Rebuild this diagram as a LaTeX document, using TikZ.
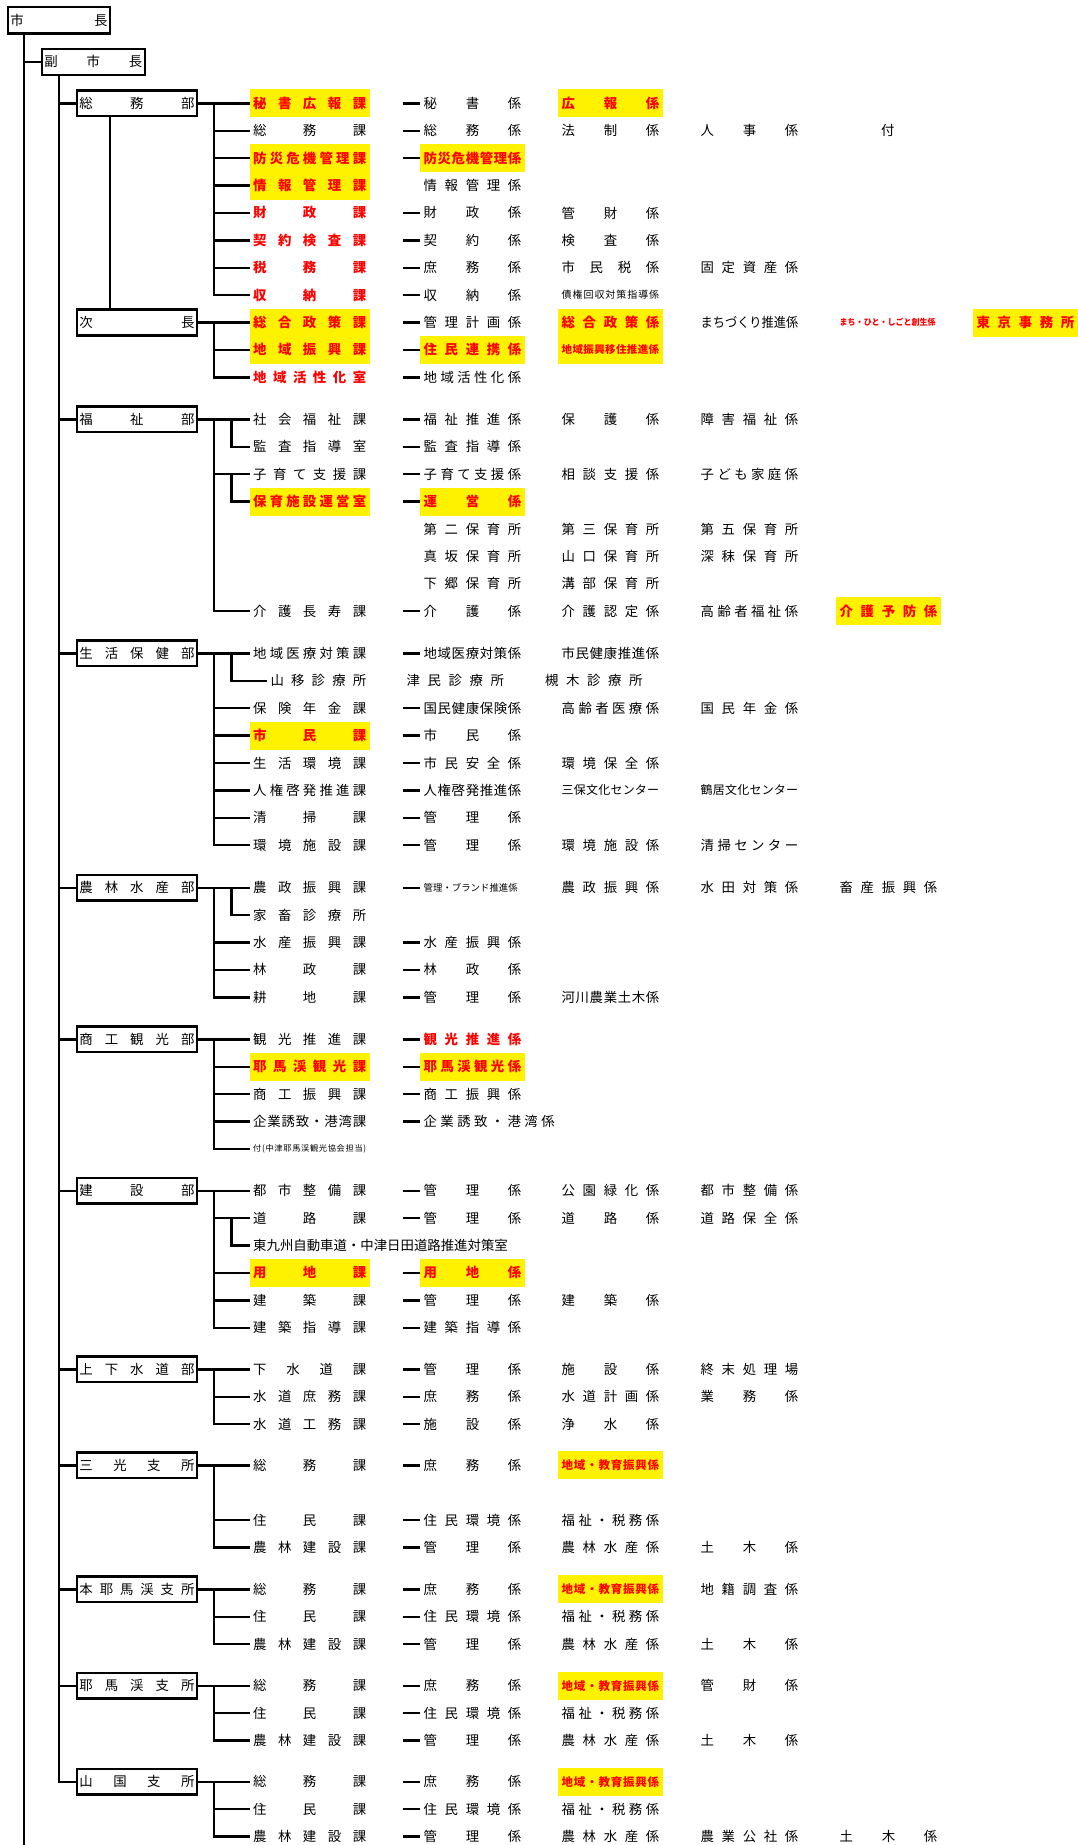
\documentclass[tikz,border=0pt]{standalone}
\usepackage{fontspec}
\setmainfont{Noto Sans CJK JP}
\usepackage{graphicx}
\usepackage{tikz}

% spread the characters of a label over a fixed width (or squeeze it in)
\makeatletter
\newsavebox\fitb@x
\def\spr@first#1{#1\spr@rest}
\def\spr@rest#1{\ifx#1\relax\else\hfill#1\expandafter\spr@rest\fi}
\newcommand\cellfit[2]{\sbox\fitb@x{#2}\ifdim\wd\fitb@x>#1\relax\resizebox{#1}{\height}{#2}\else\hbox to #1{\spr@first#2\relax}\fi}
\makeatother
\newcommand\ka[1]{\cellfit{113pt}{#1}}
\newcommand\kk[1]{\cellfit{97.5pt}{#1}}
\newcommand\dn[1]{\cellfit{115pt}{#1}}

\begin{document}
\begin{tikzpicture}[x=1pt,y=-1pt,
    font=\fontsize{13.4}{16}\selectfont,
    conn/.style={line width=2.4pt},
    cellbox/.style={anchor=west,inner xsep=3.5pt,inner ysep=0pt,minimum height=28pt},
    hlbox/.style={cellbox,fill=yellow,text=red,font=\fontsize{13.4}{16}\selectfont\bfseries},
    rdbox/.style={cellbox,text=red,font=\fontsize{13.4}{16}\selectfont\bfseries},
    topbox/.style={draw,line width=2.4pt,inner xsep=2.3pt,inner ysep=0pt},
    deptbox/.style={draw,line width=2.4pt,inner xsep=2.5pt,inner ysep=0pt,minimum width=120pt,minimum height=25.8pt}]
  \fill[white] (0,0) rectangle (1077,1845);
  \useasboundingbox (0,0) rectangle (1077,1845);

  % mayor and deputy
  \node[topbox,minimum width=101.6pt,minimum height=26.6pt] (shicho) at (58.9,20.2) {\cellfit{97pt}{市長}};
  \node[topbox,minimum width=103pt,minimum height=26pt] (fuku) at (93.3,61.85) {\cellfit{98pt}{副市長}};
  \coordinate (mtop) at (24.1,33.5);
  \coordinate (mend) at (24.1,1845);
  \draw[conn] (mtop) -- (mend);
  \draw[conn] (mtop) |- (fuku.west);

  % departments
  \node[deptbox] (somu) at (136.95,103.3) {\dn{総務部}};
  \node[deptbox] (jicho) at (136.95,322.5) {\dn{次長}};
  \node[deptbox] (fukushi) at (136.95,419.3) {\dn{福祉部}};
  \node[deptbox] (seikatsu) at (136.95,653.3) {\dn{生活保健部}};
  \node[deptbox] (norin) at (136.95,887.7) {\dn{農林水産部}};
  \node[deptbox] (shoko) at (136.95,1039.3) {\dn{商工観光部}};
  \node[deptbox] (kensetsu) at (136.95,1190.7) {\dn{建設部}};
  \node[deptbox] (josui) at (136.95,1369.3) {\dn{上下水道部}};
  \node[deptbox] (sanko) at (136.95,1465.3) {\dn{三光支所}};
  \node[deptbox] (honya) at (136.95,1589.3) {\dn{本耶馬渓支所}};
  \node[deptbox] (yaba) at (136.95,1685.7) {\dn{耶馬渓支所}};
  \node[deptbox] (yamak) at (136.95,1781.7) {\dn{山国支所}};
  \coordinate (ftop) at (59.2,74.85);
  \foreach \d in {somu,fukushi,seikatsu,norin,shoko,kensetsu,josui,sanko,honya,yaba,yamak}
    \draw[conn] (ftop) |- (\d.west);
  \coordinate (sj) at (110.2,0);
  \draw[conn] (somu.south -| sj) -- (jicho.north -| sj);

  % 総務部
  \node[hlbox] (sm-a0) at (249.5,103.3) {\ka{秘書広報課}};
  \node[cellbox] (sm-b0) at (420,103.3) {\kk{秘書係}};
  \node[hlbox] (sm-c0) at (558,103.3) {\kk{広報係}};
  \node[cellbox] (sm-a1) at (249.5,130.7) {\ka{総務課}};
  \node[cellbox] (sm-b1) at (420,130.7) {\kk{総務係}};
  \node[cellbox] (sm-c1) at (558,130.7) {\kk{法制係}};
  \node[cellbox] (sm-d1) at (697,130.7) {\kk{人事係}};
  \node[cellbox,anchor=center] (sm-e1) at (887.8,130.7) {付};
  \node[hlbox] (sm-a2) at (249.5,158.1) {\ka{防災危機管理課}};
  \node[hlbox] (sm-b2) at (420,158.1) {\kk{防災危機管理係}};
  \node[hlbox] (sm-a3) at (249.5,185.5) {\ka{情報管理課}};
  \node[cellbox] (sm-b3) at (420,185.5) {\kk{情報管理係}};
  \node[rdbox] (sm-a4) at (249.5,212.9) {\ka{財政課}};
  \node[cellbox] (sm-b4) at (420,212.9) {\kk{財政係}};
  \node[cellbox] (sm-c4) at (558,212.9) {\kk{管財係}};
  \node[rdbox] (sm-a5) at (249.5,240.3) {\ka{契約検査課}};
  \node[cellbox] (sm-b5) at (420,240.3) {\kk{契約係}};
  \node[cellbox] (sm-c5) at (558,240.3) {\kk{検査係}};
  \node[rdbox] (sm-a6) at (249.5,267.7) {\ka{税務課}};
  \node[cellbox] (sm-b6) at (420,267.7) {\kk{庶務係}};
  \node[cellbox] (sm-c6) at (558,267.7) {\kk{市民税係}};
  \node[cellbox] (sm-d6) at (697,267.7) {\kk{固定資産係}};
  \node[rdbox] (sm-a7) at (249.5,295.1) {\ka{収納課}};
  \node[cellbox] (sm-b7) at (420,295.1) {\kk{収納係}};
  \node[cellbox,font=\fontsize{10}{12}\selectfont] (sm-c7) at (558,295.1) {\kk{債権回収対策指導係}};
  \draw[conn] (somu.east) -- (sm-a0.west);
  \coordinate (sm-bus) at (214.2,103.3);
  \foreach \k in {1,...,7} \draw[conn] (sm-bus) |- (sm-a\k.west);
  \foreach \k in {0,1,2,4,5,6,7} \draw[conn] ([xshift=-17pt]sm-b\k.west) -- (sm-b\k.west);

  % 次長
  \node[hlbox] (jc-a0) at (249.5,322.5) {\ka{総合政策課}};
  \node[cellbox] (jc-b0) at (420,322.5) {\kk{管理計画係}};
  \node[hlbox] (jc-c0) at (558,322.5) {\kk{総合政策係}};
  \node[cellbox] (jc-d0) at (697,322.5) {\kk{まちづくり推進係}};
  \node[rdbox,font=\fontsize{8.5}{10}\selectfont\bfseries] (jc-e0) at (836,322.5) {\cellfit{96pt}{まち・ひと・しごと創生係}};
  \node[hlbox] (jc-f0) at (973,322.5) {\kk{東京事務所}};
  \node[hlbox] (jc-a1) at (249.5,349.9) {\ka{地域振興課}};
  \node[hlbox] (jc-b1) at (420,349.9) {\kk{住民連携係}};
  \node[hlbox,font=\fontsize{10.5}{12}\selectfont\bfseries] (jc-c1) at (558,349.9) {\kk{地域振興移住推進係}};
  \node[rdbox] (jc-a2) at (249.5,377.3) {\ka{地域活性化室}};
  \node[cellbox] (jc-b2) at (420,377.3) {\kk{地域活性化係}};
  \draw[conn] (jicho.east) -- (jc-a0.west);
  \coordinate (jc-bus) at (214.2,322.5);
  \foreach \k in {1,2} \draw[conn] (jc-bus) |- (jc-a\k.west);
  \foreach \k in {0,1,2} \draw[conn] ([xshift=-17pt]jc-b\k.west) -- (jc-b\k.west);

  % 福祉部
  \node[cellbox] (fk-a0) at (249.5,419.3) {\ka{社会福祉課}};
  \node[cellbox] (fk-b0) at (420,419.3) {\kk{福祉推進係}};
  \node[cellbox] (fk-c0) at (558,419.3) {\kk{保護係}};
  \node[cellbox] (fk-d0) at (697,419.3) {\kk{障害福祉係}};
  \node[cellbox] (fk-a1) at (249.5,446.7) {\ka{監査指導室}};
  \node[cellbox] (fk-b1) at (420,446.7) {\kk{監査指導係}};
  \node[cellbox] (fk-a2) at (249.5,474.1) {\ka{子育て支援課}};
  \node[cellbox] (fk-b2) at (420,474.1) {\kk{子育て支援係}};
  \node[cellbox] (fk-c2) at (558,474.1) {\kk{相談支援係}};
  \node[cellbox] (fk-d2) at (697,474.1) {\kk{子ども家庭係}};
  \node[hlbox] (fk-a3) at (249.5,501.5) {\ka{保育施設運営室}};
  \node[hlbox] (fk-b3) at (420,501.5) {\kk{運営係}};
  \node[cellbox] (fk-b4) at (420,528.9) {\kk{第二保育所}};
  \node[cellbox] (fk-c4) at (558,528.9) {\kk{第三保育所}};
  \node[cellbox] (fk-d4) at (697,528.9) {\kk{第五保育所}};
  \node[cellbox] (fk-b5) at (420,556.3) {\kk{真坂保育所}};
  \node[cellbox] (fk-c5) at (558,556.3) {\kk{山口保育所}};
  \node[cellbox] (fk-d5) at (697,556.3) {\kk{深秣保育所}};
  \node[cellbox] (fk-b6) at (420,583.7) {\kk{下郷保育所}};
  \node[cellbox] (fk-c6) at (558,583.7) {\kk{溝部保育所}};
  \node[cellbox] (fk-a7) at (249.5,611.1) {\ka{介護長寿課}};
  \node[cellbox] (fk-b7) at (420,611.1) {\kk{介護係}};
  \node[cellbox] (fk-c7) at (558,611.1) {\kk{介護認定係}};
  \node[cellbox] (fk-d7) at (697,611.1) {\kk{高齢者福祉係}};
  \node[hlbox] (fk-e7) at (836,611.1) {\kk{介護予防係}};
  \draw[conn] (fukushi.east) -- (fk-a0.west);
  \coordinate (fk-bus) at (214.2,419.3);
  \foreach \k in {2,7} \draw[conn] (fk-bus) |- (fk-a\k.west);
  \coordinate (fk-s0) at (231.4,419.3);
  \coordinate (fk-s2) at (231.4,474.1);
  \draw[conn] (fk-s0) |- (fk-a1.west);
  \draw[conn] (fk-s2) |- (fk-a3.west);
  \foreach \k in {0,1,2,3,7} \draw[conn] ([xshift=-17pt]fk-b\k.west) -- (fk-b\k.west);

  % 生活保健部
  \node[cellbox] (sk-a0) at (249.5,653.3) {\ka{地域医療対策課}};
  \node[cellbox] (sk-b0) at (420,653.3) {\kk{地域医療対策係}};
  \node[cellbox] (sk-c0) at (558,653.3) {\kk{市民健康推進係}};
  \node[cellbox] (sk-a1) at (266.9,680.7) {\cellfit{95.7pt}{山移診療所}};
  \node[cellbox] (sk-b1) at (402.8,680.7) {\kk{津民診療所}};
  \node[cellbox] (sk-c1) at (541.4,680.7) {\kk{槻木診療所}};
  \node[cellbox] (sk-a2) at (249.5,708.1) {\ka{保険年金課}};
  \node[cellbox] (sk-b2) at (420,708.1) {\kk{国民健康保険係}};
  \node[cellbox] (sk-c2) at (558,708.1) {\kk{高齢者医療係}};
  \node[cellbox] (sk-d2) at (697,708.1) {\kk{国民年金係}};
  \node[hlbox] (sk-a3) at (249.5,735.5) {\ka{市民課}};
  \node[cellbox] (sk-b3) at (420,735.5) {\kk{市民係}};
  \node[cellbox] (sk-a4) at (249.5,762.9) {\ka{生活環境課}};
  \node[cellbox] (sk-b4) at (420,762.9) {\kk{市民安全係}};
  \node[cellbox] (sk-c4) at (558,762.9) {\kk{環境保全係}};
  \node[cellbox] (sk-a5) at (249.5,790.3) {\ka{人権啓発推進課}};
  \node[cellbox] (sk-b5) at (420,790.3) {\kk{人権啓発推進係}};
  \node[cellbox,font=\fontsize{12}{14}\selectfont] (sk-c5) at (558,790.3) {\kk{三保文化センター}};
  \node[cellbox,font=\fontsize{12}{14}\selectfont] (sk-d5) at (697,790.3) {\kk{鶴居文化センター}};
  \node[cellbox] (sk-a6) at (249.5,817.7) {\ka{清掃課}};
  \node[cellbox] (sk-b6) at (420,817.7) {\kk{管理係}};
  \node[cellbox] (sk-a7) at (249.5,845.1) {\ka{環境施設課}};
  \node[cellbox] (sk-b7) at (420,845.1) {\kk{管理係}};
  \node[cellbox] (sk-c7) at (558,845.1) {\kk{環境施設係}};
  \node[cellbox] (sk-d7) at (697,845.1) {\kk{清掃センター}};
  \draw[conn] (seikatsu.east) -- (sk-a0.west);
  \coordinate (sk-bus) at (214.2,653.3);
  \foreach \k in {2,...,7} \draw[conn] (sk-bus) |- (sk-a\k.west);
  \coordinate (sk-s0) at (231.4,653.3);
  \draw[conn] (sk-s0) |- (sk-a1.west);
  \foreach \k in {0,2,3,4,5,6,7} \draw[conn] ([xshift=-17pt]sk-b\k.west) -- (sk-b\k.west);

  % 農林水産部
  \node[cellbox] (nr-a0) at (249.5,887.7) {\ka{農政振興課}};
  \node[cellbox,font=\fontsize{9.5}{11}\selectfont] (nr-b0) at (420,887.7) {\cellfit{94pt}{管理・ブランド推進係}};
  \node[cellbox] (nr-c0) at (558,887.7) {\kk{農政振興係}};
  \node[cellbox] (nr-d0) at (697,887.7) {\kk{水田対策係}};
  \node[cellbox] (nr-e0) at (836,887.7) {\kk{畜産振興係}};
  \node[cellbox] (nr-a1) at (249.5,915.1) {\ka{家畜診療所}};
  \node[cellbox] (nr-a2) at (249.5,942.5) {\ka{水産振興課}};
  \node[cellbox] (nr-b2) at (420,942.5) {\kk{水産振興係}};
  \node[cellbox] (nr-a3) at (249.5,969.9) {\ka{林政課}};
  \node[cellbox] (nr-b3) at (420,969.9) {\kk{林政係}};
  \node[cellbox] (nr-a4) at (249.5,997.3) {\ka{耕地課}};
  \node[cellbox] (nr-b4) at (420,997.3) {\kk{管理係}};
  \node[cellbox] (nr-c4) at (558,997.3) {\kk{河川農業土木係}};
  \draw[conn] (norin.east) -- (nr-a0.west);
  \coordinate (nr-bus) at (214.2,887.7);
  \foreach \k in {2,3,4} \draw[conn] (nr-bus) |- (nr-a\k.west);
  \coordinate (nr-s0) at (231.4,887.7);
  \draw[conn] (nr-s0) |- (nr-a1.west);
  \foreach \k in {0,2,3,4} \draw[conn] ([xshift=-17pt]nr-b\k.west) -- (nr-b\k.west);

  % 商工観光部
  \node[cellbox] (sh-a0) at (249.5,1039.3) {\ka{観光推進課}};
  \node[rdbox] (sh-b0) at (420,1039.3) {\kk{観光推進係}};
  \node[hlbox] (sh-a1) at (249.5,1066.7) {\ka{耶馬渓観光課}};
  \node[hlbox] (sh-b1) at (420,1066.7) {\kk{耶馬渓観光係}};
  \node[cellbox] (sh-a2) at (249.5,1094.1) {\ka{商工振興課}};
  \node[cellbox] (sh-b2) at (420,1094.1) {\kk{商工振興係}};
  \node[cellbox] (sh-a3) at (249.5,1121.5) {\ka{企業誘致・港湾課}};
  \node[cellbox] (sh-b3) at (420,1121.5) {\cellfit{131pt}{企業誘致・港湾係}};
  \node[cellbox,font=\fontsize{8.2}{10}\selectfont] (sh-a4) at (249.5,1148.9) {\ka{付(中津耶馬渓観光協会担当)}};
  \draw[conn] (shoko.east) -- (sh-a0.west);
  \coordinate (sh-bus) at (214.2,1039.3);
  \foreach \k in {1,...,4} \draw[conn] (sh-bus) |- (sh-a\k.west);
  \foreach \k in {0,...,3} \draw[conn] ([xshift=-17pt]sh-b\k.west) -- (sh-b\k.west);

  % 建設部
  \node[cellbox] (ks-a0) at (249.5,1190.7) {\ka{都市整備課}};
  \node[cellbox] (ks-b0) at (420,1190.7) {\kk{管理係}};
  \node[cellbox] (ks-c0) at (558,1190.7) {\kk{公園緑化係}};
  \node[cellbox] (ks-d0) at (697,1190.7) {\kk{都市整備係}};
  \node[cellbox] (ks-a1) at (249.5,1218.1) {\ka{道路課}};
  \node[cellbox] (ks-b1) at (420,1218.1) {\kk{管理係}};
  \node[cellbox] (ks-c1) at (558,1218.1) {\kk{道路係}};
  \node[cellbox] (ks-d1) at (697,1218.1) {\kk{道路保全係}};
  \node[cellbox] (ks-a2) at (249.5,1245.5) {東九州自動車道・中津日田道路推進対策室};
  \node[hlbox] (ks-a3) at (249.5,1272.9) {\ka{用地課}};
  \node[hlbox] (ks-b3) at (420,1272.9) {\kk{用地係}};
  \node[cellbox] (ks-a4) at (249.5,1300.3) {\ka{建築課}};
  \node[cellbox] (ks-b4) at (420,1300.3) {\kk{管理係}};
  \node[cellbox] (ks-c4) at (558,1300.3) {\kk{建築係}};
  \node[cellbox] (ks-a5) at (249.5,1327.7) {\ka{建築指導課}};
  \node[cellbox] (ks-b5) at (420,1327.7) {\kk{建築指導係}};
  \draw[conn] (kensetsu.east) -- (ks-a0.west);
  \coordinate (ks-bus) at (214.2,1190.7);
  \foreach \k in {1,3,4,5} \draw[conn] (ks-bus) |- (ks-a\k.west);
  \coordinate (ks-s1) at (231.4,1218.1);
  \draw[conn] (ks-s1) |- (ks-a2.west);
  \foreach \k in {0,1,3,4,5} \draw[conn] ([xshift=-17pt]ks-b\k.west) -- (ks-b\k.west);

  % 上下水道部
  \node[cellbox] (js-a0) at (249.5,1369.3) {\ka{下水道課}};
  \node[cellbox] (js-b0) at (420,1369.3) {\kk{管理係}};
  \node[cellbox] (js-c0) at (558,1369.3) {\kk{施設係}};
  \node[cellbox] (js-d0) at (697,1369.3) {\kk{終末処理場}};
  \node[cellbox] (js-a1) at (249.5,1396.7) {\ka{水道庶務課}};
  \node[cellbox] (js-b1) at (420,1396.7) {\kk{庶務係}};
  \node[cellbox] (js-c1) at (558,1396.7) {\kk{水道計画係}};
  \node[cellbox] (js-d1) at (697,1396.7) {\kk{業務係}};
  \node[cellbox] (js-a2) at (249.5,1424.1) {\ka{水道工務課}};
  \node[cellbox] (js-b2) at (420,1424.1) {\kk{施設係}};
  \node[cellbox] (js-c2) at (558,1424.1) {\kk{浄水係}};
  \draw[conn] (josui.east) -- (js-a0.west);
  \coordinate (js-bus) at (214.2,1369.3);
  \foreach \k in {1,2} \draw[conn] (js-bus) |- (js-a\k.west);
  \foreach \k in {0,1,2} \draw[conn] ([xshift=-17pt]js-b\k.west) -- (js-b\k.west);

  % 三光支所
  \node[cellbox] (sa-a0) at (249.5,1465.3) {\ka{総務課}};
  \node[cellbox] (sa-b0) at (420,1465.3) {\kk{庶務係}};
  \node[hlbox,font=\fontsize{11.5}{13}\selectfont\bfseries] (sa-c0) at (558,1465.3) {\kk{地域・教育振興係}};
  \node[cellbox] (sa-a2) at (249.5,1520.1) {\ka{住民課}};
  \node[cellbox] (sa-b2) at (420,1520.1) {\kk{住民環境係}};
  \node[cellbox] (sa-c2) at (558,1520.1) {\kk{福祉・税務係}};
  \node[cellbox] (sa-a3) at (249.5,1547.5) {\ka{農林建設課}};
  \node[cellbox] (sa-b3) at (420,1547.5) {\kk{管理係}};
  \node[cellbox] (sa-c3) at (558,1547.5) {\kk{農林水産係}};
  \node[cellbox] (sa-d3) at (697,1547.5) {\kk{土木係}};
  \draw[conn] (sanko.east) -- (sa-a0.west);
  \coordinate (sa-bus) at (214.2,1465.3);
  \foreach \k in {2,3} \draw[conn] (sa-bus) |- (sa-a\k.west);
  \foreach \k in {0,2,3} \draw[conn] ([xshift=-17pt]sa-b\k.west) -- (sa-b\k.west);

  % 本耶馬渓支所
  \node[cellbox] (hy-a0) at (249.5,1589.3) {\ka{総務課}};
  \node[cellbox] (hy-b0) at (420,1589.3) {\kk{庶務係}};
  \node[hlbox,font=\fontsize{11.5}{13}\selectfont\bfseries] (hy-c0) at (558,1589.3) {\kk{地域・教育振興係}};
  \node[cellbox] (hy-d0) at (697,1589.3) {\kk{地籍調査係}};
  \node[cellbox] (hy-a1) at (249.5,1616.7) {\ka{住民課}};
  \node[cellbox] (hy-b1) at (420,1616.7) {\kk{住民環境係}};
  \node[cellbox] (hy-c1) at (558,1616.7) {\kk{福祉・税務係}};
  \node[cellbox] (hy-a2) at (249.5,1644.1) {\ka{農林建設課}};
  \node[cellbox] (hy-b2) at (420,1644.1) {\kk{管理係}};
  \node[cellbox] (hy-c2) at (558,1644.1) {\kk{農林水産係}};
  \node[cellbox] (hy-d2) at (697,1644.1) {\kk{土木係}};
  \draw[conn] (honya.east) -- (hy-a0.west);
  \coordinate (hy-bus) at (214.2,1589.3);
  \foreach \k in {1,2} \draw[conn] (hy-bus) |- (hy-a\k.west);
  \foreach \k in {0,1,2} \draw[conn] ([xshift=-17pt]hy-b\k.west) -- (hy-b\k.west);

  % 耶馬渓支所
  \node[cellbox] (yb-a0) at (249.5,1685.7) {\ka{総務課}};
  \node[cellbox] (yb-b0) at (420,1685.7) {\kk{庶務係}};
  \node[hlbox,font=\fontsize{11.5}{13}\selectfont\bfseries] (yb-c0) at (558,1685.7) {\kk{地域・教育振興係}};
  \node[cellbox] (yb-d0) at (697,1685.7) {\kk{管財係}};
  \node[cellbox] (yb-a1) at (249.5,1713.1) {\ka{住民課}};
  \node[cellbox] (yb-b1) at (420,1713.1) {\kk{住民環境係}};
  \node[cellbox] (yb-c1) at (558,1713.1) {\kk{福祉・税務係}};
  \node[cellbox] (yb-a2) at (249.5,1740.5) {\ka{農林建設課}};
  \node[cellbox] (yb-b2) at (420,1740.5) {\kk{管理係}};
  \node[cellbox] (yb-c2) at (558,1740.5) {\kk{農林水産係}};
  \node[cellbox] (yb-d2) at (697,1740.5) {\kk{土木係}};
  \draw[conn] (yaba.east) -- (yb-a0.west);
  \coordinate (yb-bus) at (214.2,1685.7);
  \foreach \k in {1,2} \draw[conn] (yb-bus) |- (yb-a\k.west);
  \foreach \k in {0,1,2} \draw[conn] ([xshift=-17pt]yb-b\k.west) -- (yb-b\k.west);

  % 山国支所
  \node[cellbox] (ym-a0) at (249.5,1781.7) {\ka{総務課}};
  \node[cellbox] (ym-b0) at (420,1781.7) {\kk{庶務係}};
  \node[hlbox,font=\fontsize{11.5}{13}\selectfont\bfseries] (ym-c0) at (558,1781.7) {\kk{地域・教育振興係}};
  \node[cellbox] (ym-a1) at (249.5,1809.1) {\ka{住民課}};
  \node[cellbox] (ym-b1) at (420,1809.1) {\kk{住民環境係}};
  \node[cellbox] (ym-c1) at (558,1809.1) {\kk{福祉・税務係}};
  \node[cellbox] (ym-a2) at (249.5,1836.5) {\ka{農林建設課}};
  \node[cellbox] (ym-b2) at (420,1836.5) {\kk{管理係}};
  \node[cellbox] (ym-c2) at (558,1836.5) {\kk{農林水産係}};
  \node[cellbox] (ym-d2) at (697,1836.5) {\kk{農業公社係}};
  \node[cellbox] (ym-e2) at (836,1836.5) {\kk{土木係}};
  \draw[conn] (yamak.east) -- (ym-a0.west);
  \coordinate (ym-bus) at (214.2,1781.7);
  \foreach \k in {1,2} \draw[conn] (ym-bus) |- (ym-a\k.west);
  \foreach \k in {0,1,2} \draw[conn] ([xshift=-17pt]ym-b\k.west) -- (ym-b\k.west);
\end{tikzpicture}
\end{document}
